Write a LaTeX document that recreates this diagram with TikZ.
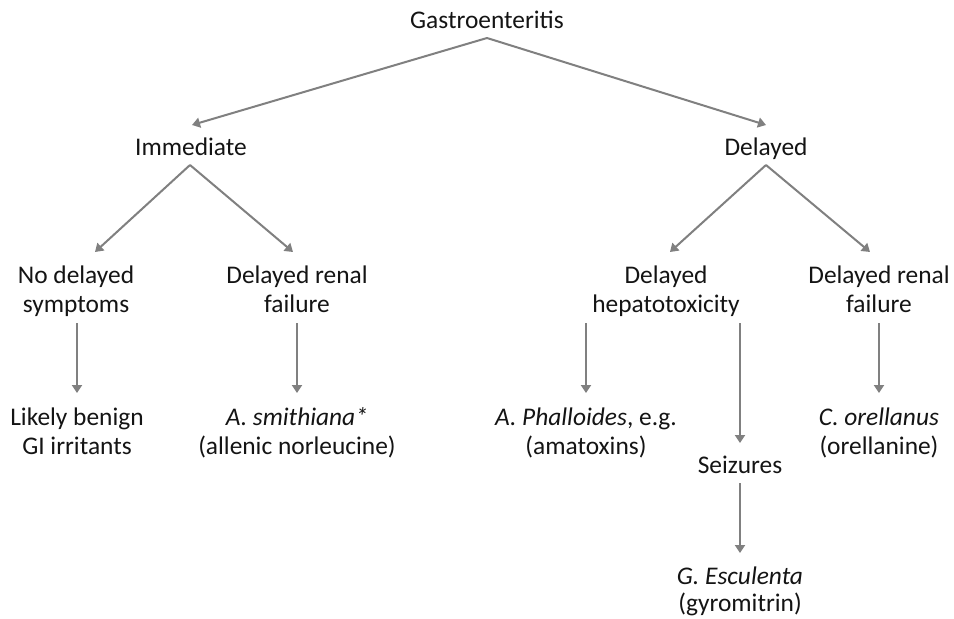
\documentclass[tikz,border=0pt]{standalone}
\usepackage{fontspec}
\setmainfont{Carlito}
\usetikzlibrary{arrows.meta,calc}
\begin{document}
\begin{tikzpicture}[x=1pt,y=-1pt,
 lbl/.style={inner sep=0pt,outer sep=0pt,anchor=base,align=center,font=\fontsize{25.4}{29}\selectfont,text=black!92},
 arr/.style={draw=black!50,line width=2pt,-{Triangle[width=10pt,length=8pt]}}]
\fill[white] (0,0) rectangle (954,619);
\useasboundingbox (0,0) rectangle (954,619);
% nodes (base = baseline of last line)
\node[lbl] (g) at (487,28) {Gastroenteritis};
\node[lbl] (imm) at (191,155) {Immediate};
\node[lbl] (del) at (766,155) {Delayed};
\node[lbl] (nd) at (76,312) {No delayed\\symptoms};
\node[lbl] (dr1) at (297,312) {Delayed renal\\failure};
\node[lbl] (hep) at (666,312) {Delayed\\hepatotoxicity};
\node[lbl] (dr2) at (879,312) {Delayed renal\\failure};
\node[lbl] (lb) at (77,454) {Likely benign\\GI irritants};
\node[lbl] (sm) at (297,454) {\textit{A. smithiana*}\\(allenic norleucine)};
\node[lbl] (ap) at (586,454) {\textit{A. Phalloides}, e.g.\\(amatoxins)};
\node[lbl] (co) at (879,454) {\textit{C. orellanus}\\(orellanine)};
\node[lbl] (sz) at (740,473) {Seizures};
\node[lbl,font=\fontsize{25.4}{27}\selectfont] (ge) at (740,611) {\textit{G. Esculenta}\\(gyromitrin)};
% connectors
\draw[arr] ([yshift=-10pt]g.base) -- ([xshift=1pt,yshift=30pt]imm.base);
\draw[arr] ([yshift=-10pt]g.base) -- ([yshift=30pt]del.base);
\draw[arr] ([xshift=-1pt,yshift=-10pt]imm.base) -- ([xshift=19pt,yshift=60pt]nd.base);
\draw[arr] ([xshift=-1pt,yshift=-10pt]imm.base) -- ([xshift=-4pt,yshift=60pt]dr1.base);
\draw[arr] ([yshift=-10pt]del.base) -- ([xshift=4pt,yshift=60pt]hep.base);
\draw[arr] ([yshift=-10pt]del.base) -- ([xshift=-9pt,yshift=60pt]dr2.base);
\draw[arr] ([xshift=1pt,yshift=-11pt]nd.base) -- ([yshift=61pt]lb.base);
\draw[arr] ([yshift=-11pt]dr1.base) -- ([yshift=61pt]sm.base);
\draw[arr] ([xshift=-80pt,yshift=-11pt]hep.base) -- ([yshift=61pt]ap.base);
\draw[arr] ([xshift=74pt,yshift=-11pt]hep.base) -- ([yshift=30pt]sz.base);
\draw[arr] ([yshift=-11pt]dr2.base) -- ([yshift=61pt]co.base);
\draw[arr] ([yshift=-10pt]sz.base) -- ([yshift=58pt]ge.base);
\end{tikzpicture}
\end{document}
